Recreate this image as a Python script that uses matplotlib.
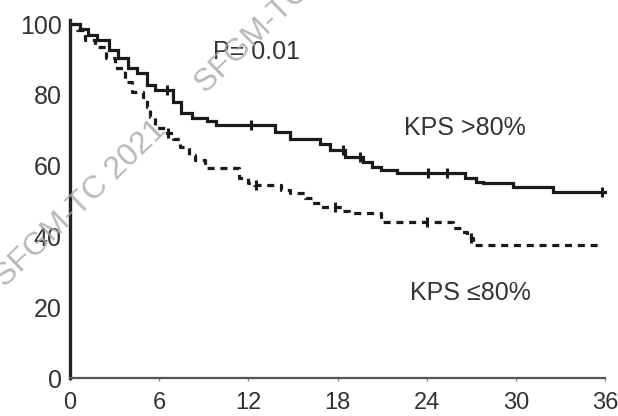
import matplotlib
matplotlib.use("Agg")
import matplotlib.pyplot as plt
import numpy as np

plt.rcParams['font.family'] = ['Liberation Sans', 'DejaVu Sans']

# Kaplan-Meier estimates (months, % surviving), step changes
kps_high_time = [0, 0.7, 1.2, 1.8, 2.6, 3.2, 3.9, 4.5, 5.2, 5.7, 6.9, 7.5, 8.2,
                 9.2, 9.8, 13.8, 14.8, 16.8, 17.5, 18.5, 19.7, 20.3, 20.9, 22.0,
                 26.6, 27.3, 27.8, 29.8, 32.5, 36.0]
kps_high_surv = [100, 98.5, 97, 95.5, 92.7, 90.4, 87.6, 86.2, 82.8, 81.4, 78, 75,
                 73.4, 72.5, 71.5, 69.5, 67.5, 66.0, 64.4, 62.4, 61.0, 59.5, 58.8,
                 57.9, 56.5, 55.5, 55.0, 54.0, 52.5, 52.5]

kps_low_time = [0, 0.5, 1.0, 1.7, 2.4, 3.0, 3.7, 4.2, 4.9, 5.2, 5.4, 5.7, 6.4,
                6.9, 7.4, 8.0, 8.4, 9.1, 11.4, 12.0, 12.4, 14.2, 14.8, 15.8, 16.3,
                16.8, 18.3, 18.8, 20.9, 25.8, 26.4, 26.7, 27.1, 35.5]
kps_low_surv = [100, 98.3, 95.5, 93.5, 90.4, 87.6, 83.6, 80.8, 79.4, 76.6, 73.7,
                70.6, 69.2, 67.5, 65.3, 63.0, 61.6, 59.3, 56.5, 55.2, 54.5, 53.2,
                52.3, 50.8, 49.5, 48.3, 47.2, 46.6, 44.0, 42.3, 41.3, 39.5, 37.6,
                37.6]

# censored observations (months)
kps_high_cens = [6.5, 12.2, 18.4, 19.5, 24.1, 25.4, 35.8]
kps_low_cens = [6.6, 12.5, 17.8, 24.0, 27.0]

x_ticks = [0, 6, 12, 18, 24, 30, 36]
y_ticks = [0, 20, 40, 60, 80, 100]

ink = '#1a1a1a'
text_col = '#333333'


def surv_at(times, surv, t):
    idx = np.searchsorted(times, t, side='right') - 1
    return np.asarray(surv)[idx]


fig = plt.figure(figsize=(6.18, 4.16), dpi=100)
ax = fig.add_axes([70 / 618, 38 / 416, 535 / 618, 101 * 3.54 / 416])

ax.step(kps_high_time, kps_high_surv, where='post', color=ink, lw=2.3,
        solid_joinstyle='miter', clip_on=False)
ax.step(kps_low_time, kps_low_surv, where='post', color=ink, lw=2.3,
        dashes=(2.2, 1.8), clip_on=False)

ax.plot(kps_high_cens, surv_at(kps_high_time, kps_high_surv, kps_high_cens),
        ls='none', marker='|', ms=7, mew=2.2, color=ink, clip_on=False)
ax.plot(kps_low_cens, surv_at(kps_low_time, kps_low_surv, kps_low_cens),
        ls='none', marker='|', ms=7, mew=2.2, color=ink, clip_on=False)

ax.set_xlim(0, 36)
ax.set_ylim(0, 101)
ax.set_xticks(x_ticks)
ax.set_yticks(y_ticks)

for side in ('top', 'right'):
    ax.spines[side].set_visible(False)
ax.spines['left'].set_color('#222222')
ax.spines['left'].set_linewidth(2.4)
ax.spines['bottom'].set_color('#555555')
ax.spines['bottom'].set_linewidth(1.6)

ax.tick_params(axis='x', length=2, width=1, color='#888888', pad=8,
               labelsize=17, labelcolor=text_col)
ax.tick_params(axis='y', length=0, pad=6, labelsize=18, labelcolor=text_col)

ax.text(9.6, 92, 'P= 0.01', fontsize=18, color=text_col, va='center')
ax.text(22.5, 70.6, 'KPS >80%', fontsize=18, color=text_col, va='center')
ax.text(22.9, 24, 'KPS ≤80%', fontsize=18, color=text_col, va='center')

# diagonal watermark, repeated along one line
fig.text(0.05, 1.28, 'SFGM-TC 2021      SFGM-TC 2021', transform=fig.dpi_scale_trans,
         rotation=44, rotation_mode='anchor', ha='left', va='baseline',
         fontsize=23, color='#a8a8a8', alpha=0.8, zorder=10)

fig.savefig('out.png', dpi=100, facecolor='white')
